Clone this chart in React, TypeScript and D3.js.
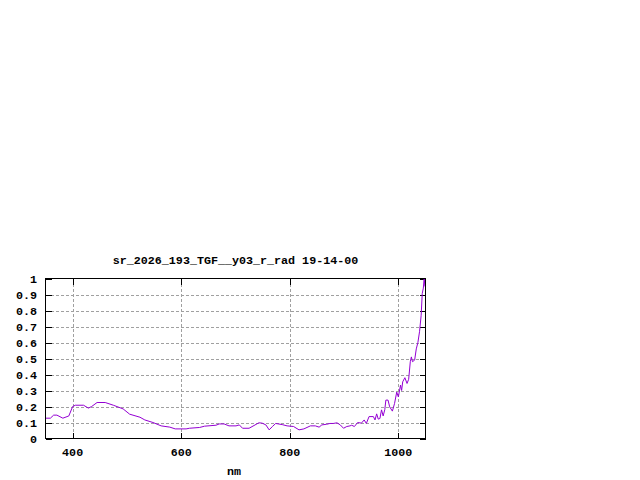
import { useEffect, useRef } from 'react';
import * as d3 from 'd3';

const wavelengths = [
	350, 359, 365, 371, 382, 393, 400, 405, 420, 429, 435, 445, 460, 475, 493, 505,
	524, 533, 548, 563, 579, 589, 609, 615, 634, 643, 664, 670, 679, 688, 701, 707,
	713, 725, 743, 749, 756, 762, 768, 774, 786, 795, 807, 817, 826, 838, 847, 854,
	859, 868, 874, 880, 887, 893, 899, 905, 911, 914, 919, 925, 932, 937, 941, 946,
	954, 957, 960, 963, 966, 969, 972, 975, 977, 981, 984, 989, 993, 997, 1000, 1004,
	1006, 1008, 1012, 1016, 1019, 1022, 1024, 1026, 1030, 1033, 1036, 1039, 1042, 1044,
	1046, 1047.5, 1049,
];
const radiance = [
	0.127, 0.127, 0.146, 0.146, 0.127, 0.141, 0.2, 0.208, 0.208, 0.19, 0.2, 0.225, 0.225,
	0.208, 0.185, 0.152, 0.133, 0.116, 0.1, 0.079, 0.071, 0.06, 0.06, 0.064, 0.069, 0.077,
	0.083, 0.091, 0.091, 0.079, 0.079, 0.085, 0.064, 0.064, 0.098, 0.096, 0.085, 0.054,
	0.075, 0.094, 0.087, 0.079, 0.075, 0.054, 0.06, 0.079, 0.079, 0.071, 0.085, 0.089,
	0.094, 0.094, 0.098, 0.085, 0.064, 0.075, 0.079, 0.083, 0.075, 0.1, 0.096, 0.116,
	0.094, 0.137, 0.137, 0.116, 0.154, 0.121, 0.125, 0.179, 0.141, 0.18, 0.24, 0.24,
	0.198, 0.171, 0.219, 0.29, 0.26, 0.334, 0.3, 0.354, 0.38, 0.344, 0.37, 0.48, 0.51,
	0.48, 0.49, 0.56, 0.6, 0.667, 0.77, 0.906, 0.94, 1.0, 0.95,
];
const xTicks = [400, 600, 800, 1000];
const yTicks = [0, 0.1, 0.2, 0.3, 0.4, 0.5, 0.6, 0.7, 0.8, 0.9, 1];

const W = 640;
const H = 480;
const left = 45.5;
const right = 425.5;
const top = 278.5;
const bottom = 438.5;
const FONT = '"Liberation Mono", "DejaVu Sans Mono", monospace';

export default function App() {
	const ref = useRef<SVGSVGElement>(null);

	useEffect(() => {
		if (!ref.current) return;
		const svg = d3.select(ref.current);
		svg.selectAll('*').remove();

		const x = d3.scaleLinear().domain([350, 1050]).range([left, right]);
		const y = d3.scaleLinear().domain([0, 1]).range([bottom, top]);

		svg.append('rect').attr('width', W).attr('height', H).attr('fill', '#fff');

		const grid = svg.append('g').attr('stroke', '#a0a0a0').attr('stroke-dasharray', '3,2').attr('shape-rendering', 'crispEdges');
		xTicks.forEach((t) => {
			const px = Math.round(x(t)) + 0.5;
			grid.append('line').attr('x1', px).attr('x2', px).attr('y1', top).attr('y2', bottom);
		});
		yTicks.slice(1, -1).forEach((t) => {
			const py = Math.round(y(t)) + 0.5;
			grid.append('line').attr('x1', left).attr('x2', right).attr('y1', py).attr('y2', py);
		});

		const ticks = svg.append('g').attr('stroke', '#000').attr('shape-rendering', 'crispEdges');
		xTicks.forEach((t) => {
			const px = Math.round(x(t)) + 0.5;
			ticks.append('line').attr('x1', px).attr('x2', px).attr('y1', bottom).attr('y2', bottom - 6);
			ticks.append('line').attr('x1', px).attr('x2', px).attr('y1', top).attr('y2', top + 6);
		});
		yTicks.forEach((t) => {
			const py = Math.round(y(t)) + 0.5;
			ticks.append('line').attr('x1', left).attr('x2', left + 6).attr('y1', py).attr('y2', py);
			ticks.append('line').attr('x1', right).attr('x2', right - 6).attr('y1', py).attr('y2', py);
		});

		const pts = wavelengths.map((w, i) => [w, radiance[i]] as [number, number]);
		const line = d3.line<[number, number]>().x((d) => x(d[0])).y((d) => y(d[1]));
		svg.append('path')
			.datum(pts)
			.attr('d', line)
			.attr('fill', 'none')
			.attr('stroke', '#9400d3')
			.attr('stroke-width', 1);

		svg.append('rect')
			.attr('x', left).attr('y', top)
			.attr('width', right - left).attr('height', bottom - top)
			.attr('fill', 'none').attr('stroke', '#000').attr('shape-rendering', 'crispEdges');

		const text = svg.append('g').style('font-family', FONT).style('font-size', '11.7px').style('font-weight', 'bold').attr('fill', '#000');
		yTicks.forEach((t) => {
			text.append('text')
				.attr('x', 37).attr('y', y(t))
				.attr('dy', '0.35em')
				.attr('text-anchor', 'end')
				.text(d3.format('~g')(t));
		});
		xTicks.forEach((t) => {
			text.append('text')
				.attr('x', x(t)).attr('y', 452)
				.attr('dy', '0.35em')
				.attr('text-anchor', 'middle')
				.text(String(t));
		});
		text.append('text')
			.attr('x', 235.5).attr('y', 260)
			.attr('dy', '0.35em')
			.attr('text-anchor', 'middle')
			.text('sr_2026_193_TGF__y03_r_rad 19-14-00');
		text.append('text')
			.attr('x', 234).attr('y', 471)
			.attr('dy', '0.35em')
			.attr('text-anchor', 'middle')
			.text('nm');
	}, []);

	return (
		<div style={{ position: 'fixed', left: 0, top: 0 }}>
			<svg ref={ref} width={W} height={H} style={{ display: 'block' }}></svg>
		</div>
	);
}
